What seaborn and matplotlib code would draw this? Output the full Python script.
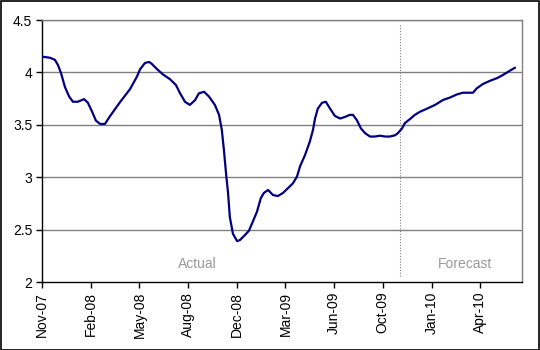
import matplotlib
matplotlib.use("Agg")
from matplotlib import pyplot as plt
from matplotlib.patches import Rectangle
import pandas as pd
import seaborn as sns

# week index (0 = Nov-07) and rate values
weeks = [0, 2.3, 3.7, 4.6, 5.5, 6.6, 7.8, 8.9, 10.3, 12.1, 13.2, 14.4, 15.5, 16.7,
         18.1, 19.5, 22.4, 25.3, 27.3, 28.2, 29.6, 30.8, 31.6, 33.1, 34.8, 36.8,
         38.5, 39.7, 41.1, 42.5, 44.0, 45.1, 46.6, 48.0, 49.7, 50.9, 51.7, 52.3,
         52.9, 53.5, 54.0, 54.9, 56.1, 56.9, 58.4, 59.5, 60.6, 61.8, 62.9, 63.8,
         65.0, 66.4, 67.8, 69.3, 70.7, 72.1, 73.3, 74.2, 75.6, 77.0, 77.9, 78.5,
         79.3, 80.5, 81.6, 82.8, 84.2, 85.7, 87.1, 88.5, 89.4, 90.5, 91.7, 92.9,
         94.3, 95.7, 97.2, 98.6, 100.0, 101.5, 102.3, 103.5, 104.3, 105.8, 107.2,
         108.7, 110.9, 113.0, 115.3, 117.3, 119.3, 121.0, 123.9, 125.0, 126.8,
         128.8, 130.8, 132.5, 134.5, 136.0]
rate = [4.15, 4.14, 4.12, 4.07, 3.99, 3.86, 3.77, 3.72, 3.72, 3.745, 3.71, 3.625,
        3.54, 3.508, 3.508, 3.58, 3.715, 3.84, 3.96, 4.03, 4.09, 4.10, 4.08, 4.03,
        3.98, 3.935, 3.88, 3.80, 3.72, 3.69, 3.735, 3.80, 3.815, 3.77, 3.69, 3.595,
        3.45, 3.26, 3.04, 2.845, 2.62, 2.46, 2.39, 2.40, 2.45, 2.49, 2.575, 2.67,
        2.80, 2.85, 2.878, 2.83, 2.82, 2.85, 2.895, 2.94, 3.005, 3.105, 3.21, 3.34,
        3.45, 3.56, 3.655, 3.71, 3.72, 3.655, 3.585, 3.56, 3.575, 3.595, 3.595,
        3.545, 3.465, 3.42, 3.388, 3.388, 3.396, 3.388, 3.388, 3.40, 3.42, 3.465,
        3.515, 3.555, 3.595, 3.625, 3.657, 3.69, 3.737, 3.76, 3.79, 3.806, 3.806,
        3.848, 3.89, 3.92, 3.945, 3.975, 4.016, 4.045]

tick_weeks = [0, 14, 28, 42, 56, 70, 84, 98, 112, 126]
tick_labels = ["Nov-07", "Feb-08", "May-08", "Aug-08", "Dec-08",
               "Mar-09", "Jun-09", "Oct-09", "Jan-10", "Apr-10"]
forecast_start = 103.0

df = pd.DataFrame({"week": weeks, "rate": rate})

sns.set_style("white")
plt.rcParams["font.family"] = ["Liberation Sans", "DejaVu Sans"]

fig = plt.figure(figsize=(5.4, 3.5), dpi=100)
ax = fig.add_axes([42 / 540, 1 - 282 / 350, 480 / 540, 262 / 350])

# gridlines
for v in [2.5, 3, 3.5, 4, 4.5]:
    ax.axhline(v, color="#808080", linewidth=1, zorder=1)

# actual / forecast divider
ax.plot([forecast_start, forecast_start], [2.057, 4.462], color="#808080",
        linestyle=(0, (1, 1.5)), linewidth=0.8, zorder=1)

sns.lineplot(data=df, x="week", y="rate", color="#000080", linewidth=1.6,
             ax=ax, zorder=3)

ax.text(44.6, 2.17, "Actual", color="#999999", fontsize=10, ha="center", va="center")
ax.text(121.6, 2.17, "Forecast", color="#999999", fontsize=10, ha="center", va="center")

ax.set_xlim(0, 138)
ax.set_ylim(2, 4.5)
ax.set_yticks([2, 2.5, 3, 3.5, 4, 4.5])
ax.set_yticklabels(["2", "2.5", "3", "3.5", "4", "4.5"])
ax.set_xticks(tick_weeks)
ax.set_xticklabels(tick_labels, rotation=90)
ax.set_xlabel("")
ax.set_ylabel("")
ax.tick_params(axis="both", direction="out", length=4, width=1, color="black",
               labelsize=10, labelcolor="black", pad=3)
ax.tick_params(axis="x", bottom=True)
ax.tick_params(axis="y", left=True)

for side in ["left", "bottom"]:
    ax.spines[side].set_color("black")
    ax.spines[side].set_linewidth(1)
for side in ["top", "right"]:
    ax.spines[side].set_color("#808080")
    ax.spines[side].set_linewidth(1)

# outer chart border
fig.patches.append(Rectangle((0.001, 0.001), 0.997, 0.996, transform=fig.transFigure,
                             fill=False, edgecolor="black", linewidth=1.2))

plt.savefig("out.png", dpi=100)
